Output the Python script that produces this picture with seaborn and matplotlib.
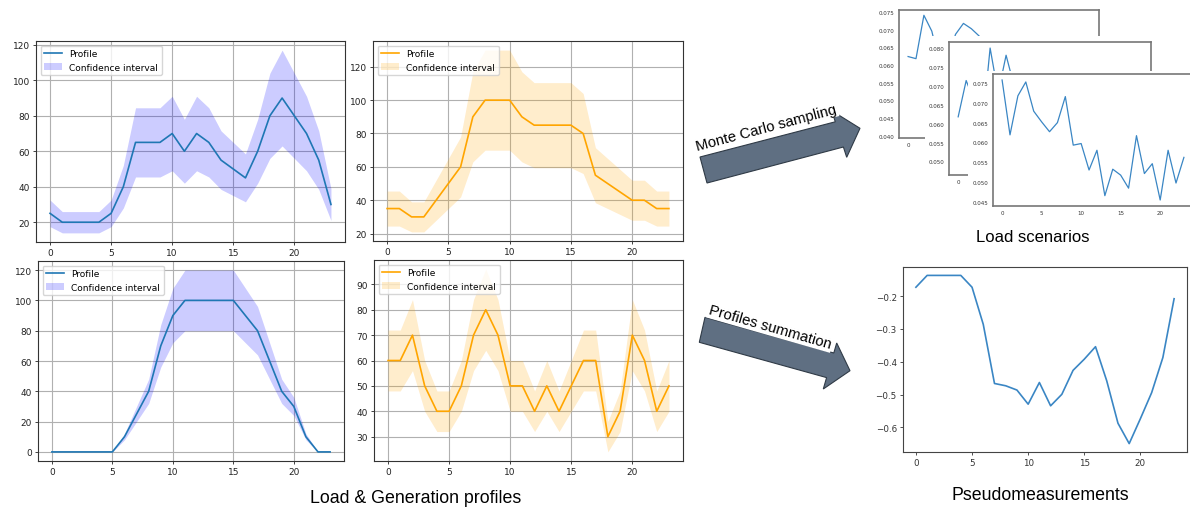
import matplotlib
matplotlib.use("Agg")
import matplotlib.pyplot as plt
from matplotlib.patches import Polygon, Rectangle
from matplotlib.ticker import FormatStrFormatter, MultipleLocator, FixedLocator
import seaborn as sns

W, H = 1190, 510

hours = list(range(24))

# Load profile (top left) with its confidence band
load_a = [25, 20, 20, 20, 20, 25, 40, 65, 65, 65, 70, 60, 70, 65, 55, 50, 45, 60, 80, 90, 80, 70, 55, 30]
load_a_lo = [17.5, 14, 14, 14, 14, 17.5, 28, 45.5, 45.5, 45.5, 49, 42, 49, 45.5, 38.5, 35, 31.5, 42, 56, 63, 56, 49, 38.5, 21]
load_a_hi = [32.5, 26, 26, 26, 26, 32.5, 52, 84.5, 84.5, 84.5, 91, 78, 91, 84.5, 71.5, 65, 58.5, 78, 104, 117, 104, 91, 71.5, 39]

# Load profile (top middle)
load_b = [35, 35, 30, 30, 40, 50, 60, 90, 100, 100, 100, 90, 85, 85, 85, 85, 80, 55, 50, 45, 40, 40, 35, 35]
load_b_lo = [24.5, 24.5, 21, 21, 28, 35, 42, 63, 70, 70, 70, 63, 59.5, 59.5, 59.5, 59.5, 56, 38.5, 35, 31.5, 28, 28, 24.5, 24.5]
load_b_hi = [45.5, 45.5, 39, 39, 52, 65, 78, 117, 130, 130, 130, 117, 110.5, 110.5, 110.5, 110.5, 104, 71.5, 65, 58.5, 52, 52, 45.5, 45.5]

# Generation profile (bottom left)
gen_a = [0, 0, 0, 0, 0, 0, 10, 25, 40, 70, 90, 100, 100, 100, 100, 100, 90, 80, 60, 40, 30, 10, 0, 0]
gen_a_lo = [0, 0, 0, 0, 0, 0, 8, 20, 32, 56, 72, 80, 80, 80, 80, 80, 72, 64, 48, 32, 24, 8, 0, 0]
gen_a_hi = [0, 0, 0, 0, 0, 0, 12, 30, 48, 84, 108, 120, 120, 120, 120, 120, 108, 96, 72, 48, 36, 12, 0, 0]

# Load profile (bottom middle)
load_c = [60, 60, 70, 50, 40, 40, 50, 70, 80, 70, 50, 50, 40, 50, 40, 50, 60, 60, 30, 40, 70, 60, 40, 50]
load_c_lo = [48, 48, 56, 40, 32, 32, 40, 56, 64, 56, 40, 40, 32, 40, 32, 40, 48, 48, 24, 32, 56, 48, 32, 40]
load_c_hi = [72, 72, 84, 60, 48, 48, 60, 84, 96, 84, 60, 60, 48, 60, 48, 60, 72, 72, 36, 48, 84, 72, 48, 60]

# Sampled load scenarios (stacked thumbnails, back to front)
scenario_1 = [0.0624, 0.0618, 0.0741, 0.0696, 0.0602, 0.0615, 0.0687, 0.0718, 0.0703, 0.0682, 0.0640, 0.0590,
              0.0565, 0.0600, 0.0545, 0.0510, 0.0470, 0.0530, 0.0495, 0.0455, 0.0412, 0.0480, 0.0440, 0.0500]
scenario_2 = [0.0618, 0.0714, 0.0660, 0.0585, 0.0800, 0.0680, 0.0781, 0.0700, 0.0650, 0.0690, 0.0620, 0.0600,
              0.0575, 0.0610, 0.0560, 0.0540, 0.0590, 0.0525, 0.0505, 0.0550, 0.0480, 0.0515, 0.0530, 0.0495]
scenario_3 = [0.0758, 0.0619, 0.0718, 0.0753, 0.0679, 0.0652, 0.0627, 0.0650, 0.0716, 0.0593, 0.0597, 0.0530,
              0.0580, 0.0465, 0.0532, 0.0517, 0.0484, 0.0617, 0.0521, 0.0546, 0.0454, 0.0580, 0.0497, 0.0562]

# Aggregated pseudomeasurement
pseudo = [-0.173, -0.137, -0.137, -0.137, -0.137, -0.173, -0.286, -0.466, -0.473, -0.486, -0.529, -0.463,
          -0.534, -0.499, -0.426, -0.392, -0.354, -0.458, -0.587, -0.649, -0.573, -0.494, -0.387, -0.208]

BLUE_LINE = "#1f77b4"
ORANGE_LINE = "#ffa500"


def box(left, top, right, bottom):
    """Pixel box (origin top-left) -> figure fraction rect."""
    return [left / W, 1 - bottom / H, (right - left) / W, (bottom - top) / H]


def fig_xy(points):
    return [(x / W, 1 - y / H) for x, y in points]


fig = plt.figure(figsize=(W / 100, H / 100), dpi=100)
fig.patch.set_facecolor("white")


def profile_panel(rect, y, lo, hi, line_color, band_color):
    ax = fig.add_axes(rect)
    sns.lineplot(x=hours, y=y, ax=ax, color=line_color, linewidth=1.2,
                 label="Profile", errorbar=None, legend=False)
    ax.fill_between(hours, lo, hi, color=band_color, alpha=0.2, linewidth=0,
                    label="Confidence interval")
    ax.grid(True, color="#b0b0b0", linewidth=0.8)
    ax.set_axisbelow(True)
    ax.set_xlabel("")
    ax.set_ylabel("")
    ax.xaxis.set_major_locator(MultipleLocator(5))
    ax.tick_params(labelsize=6.5, length=2.5, width=0.6, pad=2, colors="#222222")
    for s in ax.spines.values():
        s.set_color("#333333")
        s.set_linewidth(0.8)
    ax.legend(loc="upper left", fontsize=6.5, framealpha=0.8, edgecolor="#cccccc",
              borderpad=0.4, handlelength=2.0)
    return ax


profile_panel(box(36, 42, 345, 243), load_a, load_a_lo, load_a_hi, BLUE_LINE, "blue")
profile_panel(box(373, 42, 683, 242), load_b, load_b_lo, load_b_hi, ORANGE_LINE, "orange")
profile_panel(box(38, 262, 344, 462), gen_a, gen_a_lo, gen_a_hi, BLUE_LINE, "blue")
profile_panel(box(374, 261, 683, 462), load_c, load_c_lo, load_c_hi, ORANGE_LINE, "orange")


def scenario_panel(rect, y, ylim, z, xticks):
    ax = fig.add_axes(rect)
    ax.set_zorder(z)
    sns.lineplot(x=hours, y=y, ax=ax, color="#3a86c4", linewidth=0.9, errorbar=None)
    ax.set_xlabel("")
    ax.set_ylabel("")
    if ylim is not None:
        ax.set_ylim(*ylim)
    ax.set_xlim(-1.15, 24.15)
    ax.yaxis.set_major_locator(MultipleLocator(0.005))
    ax.yaxis.set_major_formatter(FormatStrFormatter("%.3f"))
    ax.xaxis.set_major_locator(FixedLocator(xticks))
    ax.tick_params(labelsize=4, length=0, pad=3, colors="#333333")
    for s in ax.spines.values():
        s.set_color("#777777")
        s.set_linewidth(1.2)
    return ax


# Back thumbnails only expose their first hour label; the rest sits under the next card
scenario_panel(box(899, 11, 1099, 139), scenario_1, (0.0393, 0.0756), 1, [0])
fig.add_artist(Rectangle((925 / W, 1 - 190 / H), (1165 - 925) / W, (190 - 37) / H,
                         transform=fig.transFigure, facecolor="white", edgecolor="none", zorder=1.5))
scenario_panel(box(949, 43, 1151, 176), scenario_2, (0.0464, 0.0816), 2, [0])
fig.add_artist(Rectangle((968 / W, 1 - 226 / H), (1190 - 968) / W, (226 - 72) / H,
                         transform=fig.transFigure, facecolor="white", edgecolor="none", zorder=2.5))
scenario_panel(box(993, 75, 1193, 207), scenario_3, None, 3, [0, 5, 10, 15, 20])

# Pseudomeasurement panel
axr = fig.add_axes(box(903, 268, 1187, 453))
sns.lineplot(x=hours, y=pseudo, ax=axr, color="#3a86c4", linewidth=1.2, errorbar=None)
axr.set_xlabel("")
axr.set_ylabel("")
axr.xaxis.set_major_locator(MultipleLocator(5))
axr.yaxis.set_major_locator(MultipleLocator(0.1))
axr.tick_params(labelsize=6.3, length=2.5, width=0.6, pad=2, colors="#333333")
for s in axr.spines.values():
    s.set_color("#444444")
    s.set_linewidth(0.8)

# Process arrows
ARROW_FACE = "#5f6f82"
ARROW_EDGE = "#2f3a46"
top_arrow = [(700, 158), (835.3, 122.8), (831.7, 111.7), (860, 129.3),
             (846.7, 158.3), (843.4, 148), (707, 184)]
bottom_arrow = [(705, 318.3), (833.8, 354), (836.7, 344), (850, 371.7),
                (823.3, 390), (826.6, 378.6), (699.3, 343.3)]
for pts in (top_arrow, bottom_arrow):
    fig.add_artist(Polygon(fig_xy(pts), closed=True, transform=fig.transFigure,
                           facecolor=ARROW_FACE, edgecolor=ARROW_EDGE, linewidth=0.8, zorder=5))

font = ["Liberation Sans", "DejaVu Sans"]
fig.text(766 / W, 1 - 128 / H, "Monte Carlo sampling", rotation=15, rotation_mode="anchor",
         ha="center", va="center", fontsize=10.7, family=font, zorder=6,
         bbox=dict(facecolor="white", edgecolor="none", pad=1.0))
fig.text(770 / W, 1 - 328 / H, "Profiles summation", rotation=-16, rotation_mode="anchor",
         ha="center", va="center", fontsize=10.7, family=font, zorder=6,
         bbox=dict(facecolor="white", edgecolor="none", pad=1.0))

fig.text(1033 / W, 1 - 237 / H, "Load scenarios", ha="center", va="center",
         fontsize=12, family=font, zorder=6)
fig.text(416 / W, 1 - 499 / H, "Load & Generation profiles", ha="center", va="center",
         fontsize=12.8, family=font)
fig.text(1040 / W, 1 - 496 / H, "Pseudomeasurements", ha="center", va="center",
         fontsize=12.8, family=font)

fig.savefig("out.png", dpi=100, facecolor="white")
